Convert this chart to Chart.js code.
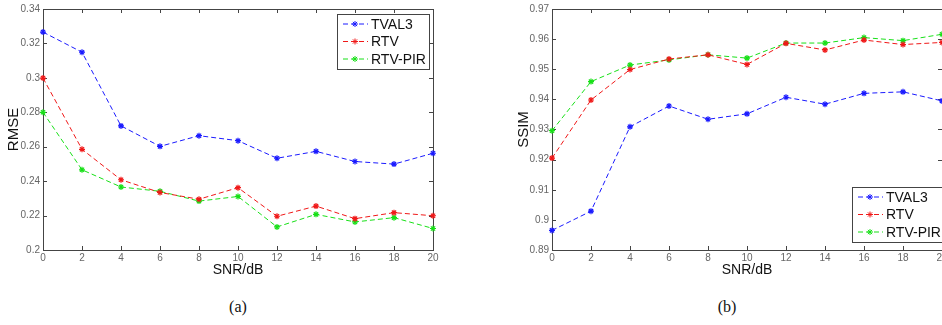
<!DOCTYPE html>
<html>
<head>
<meta charset="utf-8">
<script src="https://cdn.jsdelivr.net/npm/chart.js@4.4.1/dist/chart.umd.min.js"></script>
<style>
  html, body { margin: 0; padding: 0; background: #fff; overflow: hidden; width: 942px; height: 325px; }
  #wrapA { position: absolute; left: 0; top: 0; }
  #wrapB { position: absolute; left: 470px; top: 0; }
  .cap { position: absolute; top: 298px; width: 40px; text-align: center; font: 16px "Liberation Serif", "Times New Roman", serif; color: #111; }
</style>
</head>
<body>
<div id="wrapA"><canvas id="rmseChart" width="445" height="290"></canvas></div>
<div id="wrapB"><canvas id="ssimChart" width="480" height="290"></canvas></div>
<div class="cap" style="left:218px">(a)</div>
<div class="cap" style="left:707px">(b)</div>
<script>
// SNR values on the x axis
const snr = [0, 2, 4, 6, 8, 10, 12, 14, 16, 18, 20];

// (a) RMSE
const rmseTval3 = [0.3266, 0.3149, 0.2721, 0.2602, 0.2664, 0.2635, 0.2533, 0.2573, 0.2514, 0.2499, 0.2562];
const rmseRtv = [0.2999, 0.2585, 0.2408, 0.2334, 0.2295, 0.2362, 0.2196, 0.2255, 0.2182, 0.2217, 0.2199];
const rmseRtvPir = [0.2800, 0.2466, 0.2366, 0.2341, 0.2284, 0.2311, 0.2134, 0.2207, 0.2163, 0.2188, 0.2125];

// (b) SSIM
const ssimTval3 = [0.8965, 0.9029, 0.9309, 0.9378, 0.9334, 0.9352, 0.9407, 0.9384, 0.9420, 0.9425, 0.9395];
const ssimRtv = [0.9205, 0.9398, 0.9499, 0.9534, 0.9548, 0.9516, 0.9586, 0.9564, 0.9597, 0.9582, 0.9589];
const ssimRtvPir = [0.9296, 0.9459, 0.9514, 0.9531, 0.9548, 0.9537, 0.9587, 0.9587, 0.9605, 0.9595, 0.9616];

const seriesNames = ['TVAL3', 'RTV', 'RTV-PIR'];
const seriesColors = ['#1a1aff', '#f01818', '#18e018'];

const sansFont = '"Liberation Sans", Arial, sans-serif';

function makeDatasets(lists) {
    return lists.map((vals, i) => ({
        label: seriesNames[i],
        data: vals.map((v, k) => ({ x: snr[k], y: v })),
        borderColor: seriesColors[i],
        backgroundColor: seriesColors[i],
        borderWidth: 1,
        borderDash: [5, 3],
        pointStyle: 'star',
        pointRadius: 3,
        pointBorderWidth: 1.2,
        tension: 0,
        clip: 6
    }));
}

// matlab-ish box with ticks pointing inwards
const framePlugin = {
    id: 'frame',
    beforeDatasetsDraw(chart) {
        const { ctx, chartArea: a, scales } = chart;
        ctx.save();
        ctx.strokeStyle = '#444';
        ctx.lineWidth = 1;
        ctx.strokeRect(Math.round(a.left) + 0.5, Math.round(a.top) + 0.5,
            Math.round(a.right - a.left), Math.round(a.bottom - a.top));
        ctx.beginPath();
        scales.x.ticks.forEach(t => {
            const px = Math.round(scales.x.getPixelForValue(t.value)) + 0.5;
            ctx.moveTo(px, a.bottom); ctx.lineTo(px, a.bottom - 4);
            ctx.moveTo(px, a.top); ctx.lineTo(px, a.top + 4);
        });
        scales.y.ticks.forEach(t => {
            const py = Math.round(scales.y.getPixelForValue(t.value)) + 0.5;
            ctx.moveTo(a.left, py); ctx.lineTo(a.left + 4, py);
            ctx.moveTo(a.right, py); ctx.lineTo(a.right - 4, py);
        });
        ctx.stroke();
        ctx.restore();
    }
};

const boxLegend = {
    id: 'boxLegend',
    afterDraw(chart, args, opts) {
        const { ctx, chartArea: a } = chart;
        const w = 92, h = 55;
        const x0 = opts.corner === 'top' ? a.right - 4 - w : a.right - w + 2;
        const y0 = opts.corner === 'top' ? a.top + 5 : a.bottom - 8 - h;
        ctx.save();
        ctx.fillStyle = '#fff';
        ctx.fillRect(x0, y0, w, h);
        ctx.strokeStyle = '#444';
        ctx.lineWidth = 1;
        ctx.strokeRect(Math.round(x0) + 0.5, Math.round(y0) + 0.5, w, h);
        chart.data.datasets.forEach((ds, i) => {
            const y = y0 + 10 + i * 17.5;
            ctx.strokeStyle = ds.borderColor;
            ctx.lineWidth = 1;
            ctx.setLineDash([5, 3]);
            ctx.beginPath();
            ctx.moveTo(x0 + 6, y); ctx.lineTo(x0 + 31, y);
            ctx.stroke();
            ctx.setLineDash([]);
            Chart.helpers.drawPoint(ctx, { pointStyle: 'star', radius: 3, borderWidth: 1.2, rotation: 0 }, x0 + 18, y);
            ctx.fillStyle = '#111';
            ctx.font = '14px ' + sansFont;
            ctx.textBaseline = 'middle';
            ctx.fillText(ds.label, x0 + 34, y + 1);
        });
        ctx.restore();
    }
};

function makeChart(id, lists, cfg) {
    return new Chart(document.getElementById(id), {
        type: 'line',
        data: { datasets: makeDatasets(lists) },
        plugins: [framePlugin, boxLegend],
        options: {
            responsive: false,
            animation: false,
            layout: { padding: { top: 7, right: cfg.padRight, left: 0, bottom: 0 } },
            plugins: {
                legend: { display: false },
                tooltip: { enabled: false },
                boxLegend: { corner: cfg.legendCorner }
            },
            scales: {
                x: {
                    type: 'linear',
                    min: 0, max: 20,
                    ticks: { stepSize: 2, padding: 2, color: '#666', font: { family: sansFont, size: 10 } },
                    grid: { display: false, drawTicks: false },
                    border: { display: false },
                    title: { display: true, text: 'SNR/dB', color: '#111', font: { family: sansFont, size: 14 }, padding: { top: 0, bottom: 11 } },
                    afterFit(s) { s.height = 40; }
                },
                y: {
                    min: cfg.yMin, max: cfg.yMax,
                    ticks: {
                        stepSize: cfg.yStep, padding: 3, color: '#666',
                        font: { family: sansFont, size: 10 },
                        callback: v => String(+v.toFixed(2))
                    },
                    grid: { display: false, drawTicks: false },
                    border: { display: false },
                    title: { display: true, text: cfg.yTitle, color: '#111', font: { family: sansFont, size: 15 }, padding: { top: cfg.yTitlePad, bottom: 0 } },
                    afterFit(s) { s.width = cfg.yWidth; }
                }
            }
        }
    });
}

makeChart('rmseChart', [rmseTval3, rmseRtv, rmseRtvPir], {
    yMin: 0.2, yMax: 0.34, yStep: 0.02, yTitle: 'RMSE',
    yWidth: 43, yTitlePad: 5, padRight: 12, legendCorner: 'top'
});
makeChart('ssimChart', [ssimTval3, ssimRtv, ssimRtvPir], {
    yMin: 0.89, yMax: 0.97, yStep: 0.01, yTitle: 'SSIM',
    yWidth: 82, yTitlePad: 45, padRight: 8, legendCorner: 'bottom'
});
</script>
</body>
</html>
